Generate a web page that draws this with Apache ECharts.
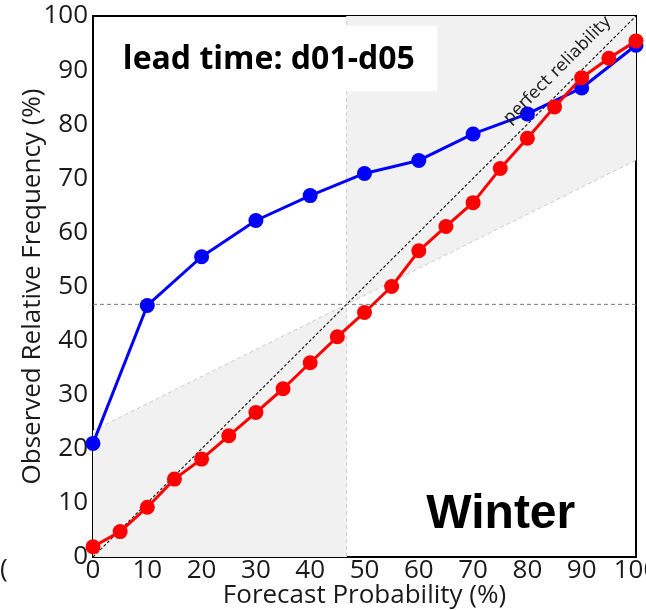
<!DOCTYPE html>
<html>
<head>
<meta charset="utf-8">
<script src="https://cdn.jsdelivr.net/npm/echarts@6/dist/echarts.min.js"></script>
<style>
  html, body { margin: 0; padding: 0; background: #fff; }
  #chart { width: 646px; height: 610px; }
</style>
</head>
<body>
<div id="chart"></div>
<script>
// reliability diagram, winter, lead time d01-d05
var blueX = [0, 10, 20, 30, 40, 50, 60, 70, 80, 90, 100];
var blueY = [21.0, 46.5, 55.5, 62.2, 66.8, 70.9, 73.3, 78.2, 81.9, 86.7, 94.6];
var redX = [0, 5, 10, 15, 20, 25, 30, 35, 40, 45, 50, 55, 60, 65, 70, 75, 80, 85, 90, 95, 100];
var redY = [1.9, 4.7, 9.2, 14.4, 18.1, 22.4, 26.7, 31.1, 35.9, 40.7, 45.2, 50.0, 56.6, 61.1, 65.5, 71.8, 77.4, 83.2, 88.6, 92.2, 95.4];
var clim = 46.7;

function pairs(xs, ys) {
    var out = [];
    for (var i = 0; i < xs.length; i++) {
        out.push([xs[i], ys[i]]);
    }
    return out;
}

// no-skill line sits halfway between climatology and perfect reliability
function noSkill(x) { return (x + clim) / 2; }

var shadeLeft = [[0, 0], [clim, 0], [clim, clim], [0, noSkill(0)]];
var shadeRight = [[clim, clim], [100, noSkill(100)], [100, 100], [clim, 100]];

var myChart = echarts.init(document.getElementById('chart'));

var tickFont = { fontFamily: 'Open Sans', fontSize: 26, color: '#1a1a1a' };

myChart.setOption({
    animation: false,
    grid: {
        left: 93,
        right: 10,
        top: 16,
        bottom: 53,
        outerBoundsMode: 'none',
        containLabel: false,
        show: true,
        borderColor: '#000',
        borderWidth: 2,
        backgroundColor: 'transparent'
    },
    xAxis: {
        type: 'value',
        min: 0,
        max: 100,
        interval: 10,
        name: 'Forecast Probability (%)',
        nameLocation: 'middle',
        nameGap: 26,
        nameMoveOverlap: false,
        nameTextStyle: { fontFamily: 'Open Sans', fontSize: 26, color: '#1a1a1a' },
        axisLine: { show: true, lineStyle: { color: '#000', width: 2 } },
        axisTick: { show: false },
        splitLine: { show: false },
        axisLabel: {
            margin: 1,
            fontFamily: tickFont.fontFamily,
            fontSize: tickFont.fontSize,
            color: tickFont.color,
            showMaxLabel: true,
            showMinLabel: true,
            hideOverlap: false
        }
    },
    yAxis: {
        type: 'value',
        min: 0,
        max: 100,
        interval: 10,
        name: 'Observed Relative Frequency (%)',
        nameLocation: 'middle',
        nameGap: 47,
        nameMoveOverlap: false,
        nameTextStyle: { fontFamily: 'Open Sans', fontSize: 26, color: '#1a1a1a' },
        axisLine: { show: true, lineStyle: { color: '#000', width: 2 } },
        axisTick: { show: false },
        splitLine: { show: false },
        axisLabel: {
            margin: 5,
            fontFamily: tickFont.fontFamily,
            fontSize: tickFont.fontSize,
            color: tickFont.color
        }
    },
    series: [
        {
            type: 'custom',
            silent: true,
            z: 1,
            data: [0, 1],
            renderItem: function (params, api) {
                var poly = params.dataIndex === 0 ? shadeLeft : shadeRight;
                var pts = poly.map(function (p) { return api.coord(p); });
                return {
                    type: 'polygon',
                    shape: { points: pts },
                    style: { fill: '#f1f1f1' }
                };
            }
        },
        {
            type: 'line',
            silent: true,
            z: 2,
            symbol: 'none',
            data: [[0, clim], [100, clim]],
            lineStyle: { color: '#777', width: 1, type: [4, 3] }
        },
        {
            type: 'line',
            silent: true,
            z: 2,
            symbol: 'none',
            data: [[clim, 0], [clim, 100]],
            lineStyle: { color: '#cfcfcf', width: 1, type: [4, 3] }
        },
        {
            type: 'line',
            silent: true,
            z: 2,
            symbol: 'none',
            data: [[0, noSkill(0)], [100, noSkill(100)]],
            lineStyle: { color: '#cccccc', width: 1, type: [4, 3] }
        },
        {
            type: 'line',
            silent: true,
            z: 2,
            symbol: 'none',
            data: [[0, 0], [100, 100]],
            lineStyle: { color: '#222', width: 1.2, type: [3, 2] }
        },
        {
            name: 'blue',
            type: 'line',
            z: 5,
            data: pairs(blueX, blueY),
            symbol: 'circle',
            symbolSize: 15,
            itemStyle: { color: '#0000ff' },
            lineStyle: { color: '#0000ff', width: 3 }
        },
        {
            name: 'red',
            type: 'line',
            z: 6,
            data: pairs(redX, redY),
            symbol: 'circle',
            symbolSize: 15,
            itemStyle: { color: '#ff0000' },
            lineStyle: { color: '#ff0000', width: 3 }
        }
    ]
});

function place() {
    var boxTL = myChart.convertToPixel({ gridIndex: 0 }, [0.4, 98.2]);
    var boxBR = myChart.convertToPixel({ gridIndex: 0 }, [63.4, 86.1]);
    var labelAt = myChart.convertToPixel({ gridIndex: 0 }, [85.6, 90.0]);
    var winterAt = myChart.convertToPixel({ gridIndex: 0 }, [75.1, 7.8]);
    var leadAt = myChart.convertToPixel({ gridIndex: 0 }, [5.5, 91.9]);
    myChart.setOption({
        graphic: [
            {
                type: 'rect',
                z: 10,
                shape: { x: boxTL[0], y: boxTL[1], width: boxBR[0] - boxTL[0], height: boxBR[1] - boxTL[1] },
                style: { fill: '#fff' }
            },
            {
                type: 'text',
                z: 11,
                x: leadAt[0],
                y: leadAt[1],
                style: {
                    text: 'lead time: d01-d05',
                    font: 'bold 32px "Open Sans"',
                    fill: '#000',
                    textAlign: 'left',
                    textVerticalAlign: 'middle'
                }
            },
            {
                type: 'text',
                z: 11,
                x: labelAt[0],
                y: labelAt[1],
                rotation: Math.PI / 4,
                style: {
                    text: 'perfect reliability',
                    font: '17px "DejaVu Sans"',
                    fill: '#222',
                    textAlign: 'center',
                    textVerticalAlign: 'middle'
                }
            },
            {
                type: 'text',
                z: 11,
                x: winterAt[0],
                y: winterAt[1],
                style: {
                    text: 'Winter',
                    font: 'bold 48px "Liberation Sans"',
                    fill: '#000',
                    textAlign: 'center',
                    textVerticalAlign: 'middle'
                }
            },
            {
                type: 'text',
                z: 11,
                x: 0,
                y: 570,
                style: {
                    text: '(',
                    font: '26px "Open Sans"',
                    fill: '#1a1a1a',
                    textAlign: 'left',
                    textVerticalAlign: 'middle'
                }
            }
        ]
    });
}
place();
</script>
</body>
</html>
